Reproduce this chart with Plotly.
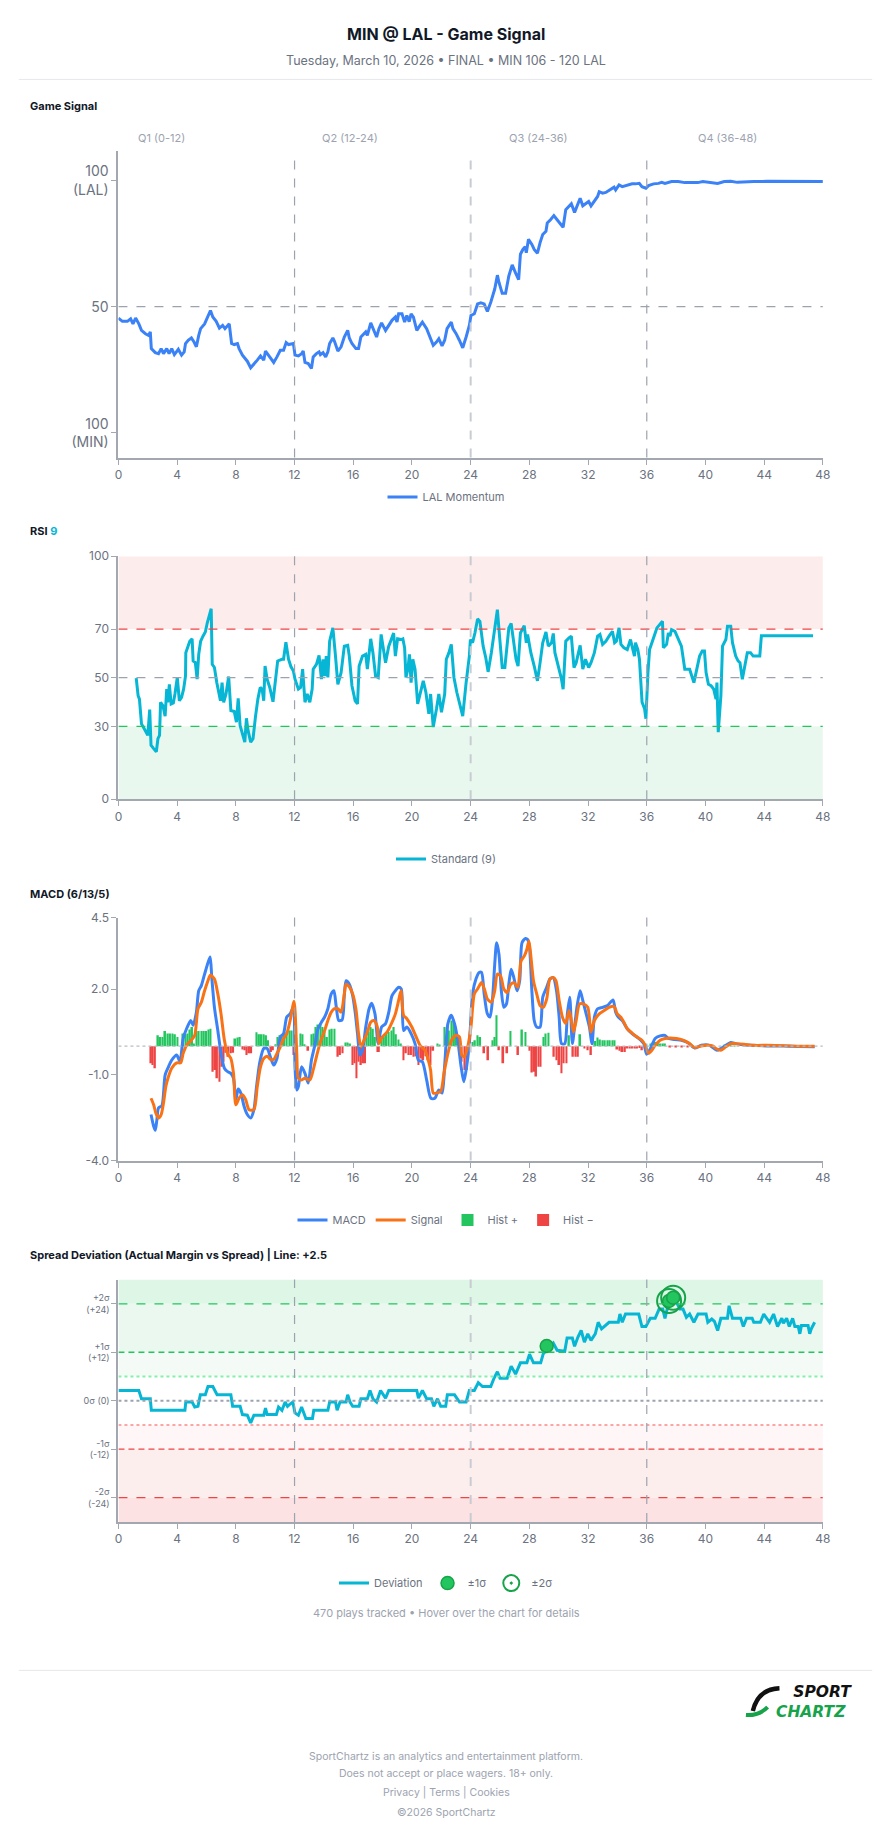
import plotly.graph_objects as go

W, H = 896, 1845
def px(v): return v / W
def py(v): return 1 - v / H

# ---------------- DATA ----------------
quarters = ["Q1 (0-12)", "Q2 (12-24)", "Q3 (24-36)", "Q4 (36-48)"]
minute_ticks = list(range(0, 49, 4))

gs_min = [0.00,0.27,0.61,0.83,0.99,1.17,1.39,1.57,1.84,2.06,
          2.17,2.24,2.51,2.73,2.91,3.07,3.29,3.45,3.63,3.81,
          4.08,4.30,4.48,4.57,4.75,4.97,5.15,5.31,5.47,5.60,
          5.87,6.10,6.27,6.43,6.66,6.88,7.10,7.26,7.55,7.71,
          7.89,8.11,8.22,8.45,8.63,8.78,9.01,9.23,9.46,9.68,
          9.90,10.02,10.24,10.58,10.80,11.03,11.25,11.43,11.59,11.92,
          12.03,12.26,12.48,12.59,12.71,12.93,13.15,13.27,13.49,13.67,
          13.76,13.94,14.12,14.27,14.39,14.61,14.72,14.95,15.17,15.39,
          15.62,15.73,15.91,16.18,16.36,16.52,16.85,16.96,17.19,17.41,
          17.59,17.75,17.93,18.20,18.42,18.64,18.87,18.98,19.09,19.32,
          19.50,19.65,19.81,19.94,20.10,20.33,20.55,20.71,21.00,21.22,
          21.45,21.67,21.83,22.05,22.23,22.39,22.68,22.79,23.01,23.23,
          23.46,23.69,23.91,24.02,24.25,24.47,24.69,24.92,25.14,25.37,
          25.64,25.82,25.93,26.15,26.38,26.60,26.83,27.05,27.27,27.39,
          27.56,27.72,27.79,27.94,28.17,28.33,28.55,28.73,28.91,29.13,
          29.22,29.44,29.67,29.89,30.12,30.30,30.48,30.70,30.86,31.08,
          31.31,31.46,31.64,31.82,32.04,32.20,32.43,32.65,32.76,32.99,
          33.21,33.55,33.77,33.88,34.11,34.33,34.67,35.00,35.23,35.49,
          35.67,35.94,36.12,36.46,36.80,37.02,37.24,37.47,37.69,38.14,
          38.59,39.04,39.48,39.82,40.38,40.83,41.28,41.72,42.17,42.62,
          43.29,44.19,45.31,46.43,48.00]
gs_val = [45.5,44.2,44.2,45.2,43.2,45.5,43.2,40.6,39.3,38.6,
          40.0,33.4,31.8,31.4,33.4,31.4,33.4,31.4,33.4,31.0,
          33.1,30.8,32.1,35.4,36.7,37.6,36.0,34.1,38.6,41.3,
          43.2,45.9,48.5,45.9,44.2,41.5,42.6,41.3,43.2,35.4,
          35.0,35.4,33.4,30.8,29.5,28.4,25.8,27.1,28.8,30.5,
          28.8,32.4,30.8,27.9,30.1,32.7,32.7,35.8,35.0,35.4,
          30.8,30.5,31.4,32.4,27.9,27.5,25.5,30.1,31.4,32.1,
          31.0,31.8,30.1,32.1,35.4,37.6,36.3,32.4,34.1,38.0,
          40.6,37.6,35.4,33.4,33.4,38.0,40.0,38.6,43.6,40.6,
          38.0,41.3,43.6,40.6,42.6,44.6,45.9,43.9,47.2,47.2,
          43.9,46.5,44.1,47.2,45.9,40.6,42.6,43.9,41.3,38.0,
          34.7,36.0,37.3,34.5,36.7,41.3,43.9,41.3,39.3,36.7,
          33.7,38.0,42.6,46.5,47.2,51.1,51.5,51.1,48.1,51.8,
          57.0,62.5,59.6,55.3,55.3,62.2,66.6,63.5,60.7,70.8,
          72.7,73.8,71.4,76.7,74.7,72.7,71.2,75.4,78.6,79.9,
          83.2,84.5,86.1,84.5,82.9,81.5,88.5,90.0,90.8,87.4,
          91.1,93.0,90.0,90.8,91.7,90.0,91.7,93.7,95.6,95.0,
          95.3,96.6,97.4,96.3,98.3,97.6,98.3,98.7,98.7,98.9,
          97.6,97.0,98.0,98.7,98.9,99.3,98.9,99.3,99.6,99.6,
          99.2,99.2,99.2,99.6,99.3,98.9,99.6,99.7,99.3,99.5,
          99.6,99.7,99.7,99.7,99.6]

rsi_min = [1.21,1.34,1.43,1.57,1.73,1.88,2.00,2.13,2.22,2.40,
           2.58,2.69,2.80,2.87,3.03,3.18,3.29,3.36,3.47,3.59,
           3.74,3.85,4.01,4.15,4.30,4.44,4.57,4.59,4.75,4.86,
           5.02,5.09,5.24,5.36,5.47,5.60,5.76,5.92,6.05,6.21,
           6.32,6.39,6.54,6.70,6.83,6.95,7.06,7.17,7.33,7.51,
           7.66,7.89,8.04,8.16,8.29,8.45,8.61,8.72,8.83,9.01,
           9.17,9.34,9.50,9.66,9.79,9.90,9.99,10.13,10.31,10.53,
           10.69,10.85,11.14,11.25,11.41,11.59,11.75,11.92,12.03,12.26,
           12.41,12.55,12.71,12.86,13.04,13.20,13.27,13.49,13.67,13.83,
           13.94,14.05,14.16,14.27,14.39,14.61,14.79,14.95,15.17,15.39,
           15.62,15.73,15.91,16.13,16.29,16.40,16.63,16.85,16.96,17.19,
           17.34,17.52,17.70,17.90,18.20,18.42,18.75,18.87,19.02,19.27,
           19.38,19.50,19.59,19.72,19.83,19.94,20.06,20.21,20.39,20.55,
           20.77,20.95,21.15,21.27,21.45,21.67,21.83,22.01,22.23,22.34,
           22.52,22.68,22.86,23.06,23.26,23.46,23.69,23.91,23.98,24.13,
           24.29,24.47,24.63,24.85,25.03,25.19,25.41,25.64,25.82,25.93,
           26.15,26.33,26.60,26.76,26.94,27.09,27.23,27.39,27.65,27.79,
           27.88,28.10,28.33,28.55,28.73,28.91,29.13,29.29,29.51,29.63,
           29.74,29.96,30.19,30.30,30.48,30.70,30.86,31.04,31.19,31.46,
           31.64,31.82,32.04,32.20,32.43,32.65,32.81,32.99,33.21,33.43,
           33.66,33.81,33.93,34.11,34.24,34.44,34.67,34.89,35.00,35.16,
           35.23,35.39,35.50,35.68,35.85,35.94,36.08,36.19,36.35,36.69,
           37.07,37.13,37.35,37.47,37.58,37.69,37.92,38.14,38.36,38.59,
           38.92,39.21,39.37,39.60,39.78,39.93,40.04,40.20,40.38,40.56,
           40.72,40.78,40.87,41.05,41.16,41.39,41.50,41.72,41.84,42.06,
           42.22,42.35,42.51,42.67,42.85,43.07,43.25,43.70,43.81,44.19,
           47.33]
rsi_val = [49.8,42.6,41.2,31.0,29.3,27.6,26.3,36.9,22.2,20.8,
           19.5,24.9,26.3,39.9,38.5,34.2,45.3,39.9,47.3,39.2,
           39.6,43.3,50.1,40.5,41.9,45.3,50.7,60.3,63.0,65.0,
           66.0,56.9,56.2,49.4,59.6,65.0,67.1,68.8,72.5,76.6,
           78.4,55.5,54.2,48.0,43.3,40.5,48.0,39.9,43.3,50.5,
           36.5,36.1,31.7,41.5,30.3,26.5,23.5,33.3,28.3,23.5,
           24.9,34.1,41.2,46.0,45.3,40.5,54.8,49.4,46.0,40.1,
           48.0,56.9,57.6,57.6,64.6,57.6,54.6,52.8,49.4,45.3,
           46.0,53.5,39.9,43.3,39.9,45.3,53.5,55.5,59.2,49.4,
           57.6,50.7,58.9,50.1,65.0,70.5,58.9,47.3,52.1,63.0,
           63.3,58.9,46.7,40.5,39.2,54.8,58.9,59.6,53.5,66.0,
           60.3,50.7,50.1,67.8,56.2,63.0,68.4,58.9,66.0,65.7,
           66.0,62.3,50.1,53.5,59.6,48.0,57.6,53.5,39.2,43.3,
           48.7,43.9,35.1,43.3,29.7,37.1,43.3,35.8,43.3,57.6,
           60.3,63.7,50.1,43.9,38.5,34.2,48.0,58.9,65.7,64.4,
           68.4,74.2,73.2,63.0,58.2,52.4,60.3,69.8,78.0,69.8,
           54.2,54.2,70.5,72.3,64.4,57.6,54.8,68.4,71.4,64.4,
           67.8,60.3,54.8,48.7,56.2,64.4,68.8,63.0,64.4,68.2,
           60.3,54.8,49.4,45.3,65.0,66.4,67.1,54.2,56.2,63.3,
           53.5,57.6,54.2,56.2,60.3,67.1,67.8,63.7,65.0,67.1,
           69.1,64.4,65.0,70.5,63.7,62.3,61.6,65.7,62.3,58.9,
           64.4,61.6,57.6,39.9,37.2,33.1,52.1,61.6,64.4,70.5,
           73.2,62.3,63.7,68.4,67.1,69.8,69.1,66.4,63.0,53.5,
           53.5,48.0,52.1,58.9,61.0,61.0,52.1,47.3,46.7,45.3,
           41.2,48.0,27.6,42.6,63.0,65.7,71.2,71.2,64.4,58.9,
           56.9,56.2,49.4,54.2,60.3,60.3,58.9,58.9,67.3,67.3,
           67.3]

macd_min = [2.22,2.40,2.51,2.62,2.73,2.96,3.18,3.41,3.63,3.97,
            4.19,4.41,4.64,4.93,5.09,5.31,5.47,5.65,5.87,6.10,
            6.25,6.36,6.54,6.77,6.99,7.22,7.44,7.66,7.84,8.00,
            8.16,8.34,8.56,8.78,9.01,9.23,9.41,9.64,9.90,10.13,
            10.35,10.58,10.80,11.03,11.25,11.47,11.70,11.92,12.03,12.15,
            12.26,12.48,12.71,12.93,13.15,13.38,13.60,13.83,14.05,14.27,
            14.50,14.68,14.83,15.01,15.24,15.39,15.51,15.73,15.96,16.13,
            16.29,16.45,16.63,16.85,17.08,17.25,17.48,17.70,17.93,18.20,
            18.42,18.64,18.87,19.09,19.27,19.43,19.65,19.94,20.21,20.44,
            20.71,21.00,21.29,21.56,21.83,22.05,22.23,22.45,22.68,22.90,
            23.12,23.35,23.53,23.69,23.91,24.13,24.36,24.58,24.74,24.92,
            25.14,25.32,25.48,25.64,25.77,25.93,26.09,26.26,26.44,26.60,
            26.76,26.94,27.16,27.34,27.50,27.73,27.88,28.01,28.17,28.33,
            28.50,28.73,28.91,29.18,29.40,29.63,29.85,30.03,30.19,30.41,
            30.59,30.75,30.93,31.08,31.24,31.46,31.64,31.87,32.09,32.27,
            32.43,32.65,32.99,33.32,33.70,33.88,34.06,34.33,34.67,35.00,
            35.45,35.79,35.99,36.12,36.35,36.57,36.91,37.24,37.47,37.91,
            38.36,38.81,39.26,39.71,40.27,40.78,41.05,41.39,41.72,42.06,
            42.40,43.07,44.19,45.31,46.43,47.44]
macd_val = [-2.39,-2.80,-2.94,-2.57,-2.16,-2.08,-1.01,-0.72,-0.49,-0.31,
            -0.54,0.27,0.61,0.90,0.73,1.19,1.94,2.12,2.52,2.92,
            3.12,2.40,1.36,0.55,-0.25,-0.77,-0.89,-0.95,-1.12,-1.87,
            -1.50,-1.64,-2.10,-2.39,-2.51,-2.22,-1.41,-0.54,-0.08,-0.08,
            -0.37,-0.66,-0.43,0.32,0.44,1.02,1.13,1.36,-0.72,-1.53,
            -1.41,-0.72,-0.95,-1.29,-0.49,0.03,0.61,0.84,1.02,1.31,
            1.83,1.94,1.42,0.90,0.92,1.77,2.29,2.17,1.77,1.19,
            0.44,-0.31,-0.14,0.67,1.31,1.50,1.13,0.09,0.67,0.79,
            1.19,1.77,1.94,2.06,2.00,0.55,0.67,0.44,0.09,-0.49,
            -0.54,-1.18,-1.82,-1.82,-1.53,-1.64,-0.66,0.79,1.08,0.79,
            0.21,-0.72,-1.24,-0.83,0.09,1.83,2.35,2.58,2.58,1.83,
            1.13,1.02,1.60,2.87,3.62,3.21,1.94,1.36,1.48,2.17,
            2.69,2.40,1.94,2.29,3.62,3.77,3.73,3.45,1.94,0.90,
            0.67,0.67,1.71,2.06,2.35,2.40,1.94,1.02,0.09,0.09,
            1.13,1.71,0.09,0.67,1.36,1.94,1.60,1.13,0.67,0.09,
            1.02,1.31,1.36,1.42,1.62,1.19,1.02,0.90,0.61,0.44,
            0.27,0.09,-0.28,-0.20,0.03,0.27,0.36,0.38,0.27,0.23,
            0.21,0.12,-0.06,0.03,0.03,-0.14,-0.08,0.03,0.13,0.09,
            0.06,0.03,0.01,0.01,-0.01,-0.02]

signal_min = [2.22,2.40,2.55,2.73,2.91,3.07,3.23,3.41,3.63,3.97,
              4.24,4.41,4.64,4.97,5.20,5.42,5.65,5.87,6.10,6.27,
              6.54,6.77,6.99,7.22,7.44,7.66,7.84,8.00,8.22,8.45,
              8.67,8.90,9.23,9.46,9.68,9.90,10.13,10.35,10.58,10.80,
              11.03,11.25,11.47,11.70,11.97,12.15,12.26,12.48,12.71,13.04,
              13.27,13.49,13.76,14.05,14.27,14.50,14.72,14.95,15.17,15.39,
              15.51,15.73,15.96,16.18,16.36,16.52,16.74,16.96,17.19,17.41,
              17.64,17.75,17.97,18.31,18.60,18.87,19.09,19.25,19.43,19.65,
              19.99,20.33,20.55,20.89,21.11,21.27,21.45,21.67,21.96,22.18,
              22.45,22.72,23.01,23.24,23.39,23.57,23.80,24.02,24.25,24.47,
              24.74,24.97,25.14,25.41,25.64,25.82,26.04,26.26,26.49,26.71,
              26.94,27.21,27.43,27.66,27.83,27.97,28.10,28.28,28.50,28.73,
              28.95,29.18,29.40,29.63,29.81,30.03,30.25,30.48,30.70,30.86,
              31.01,31.19,31.42,31.69,31.98,32.20,32.43,32.76,33.10,33.43,
              33.77,33.99,34.22,34.44,34.67,35.00,35.34,35.67,35.90,36.12,
              36.35,36.57,36.91,37.24,37.57,38.02,38.47,38.92,39.26,39.71,
              40.16,40.49,40.72,41.05,41.39,41.72,42.06,42.62,43.29,44.19,
              45.31,46.43,47.44]
signal_val = [-1.82,-2.05,-2.34,-2.51,-2.39,-1.99,-1.41,-1.06,-0.77,-0.58,
              -0.58,-0.25,0.03,0.21,0.38,1.31,1.54,1.94,2.29,2.49,
              2.35,1.83,1.13,0.21,-0.25,-0.43,-0.95,-2.05,-1.82,-1.70,
              -1.87,-2.22,-2.22,-1.41,-0.72,-0.43,-0.35,-0.46,-0.46,-0.25,
              -0.02,0.27,0.44,0.90,1.57,-0.25,-1.12,-1.18,-1.12,-1.18,
              -0.83,-0.37,0.15,0.55,0.90,1.19,1.31,1.31,1.19,1.83,
              2.17,2.08,1.83,1.31,0.44,-0.02,0.21,0.50,0.84,0.90,
              0.67,0.09,0.32,0.50,0.79,1.13,1.60,1.94,1.08,0.96,
              0.67,0.27,0.03,-0.14,-0.49,-0.83,-1.64,-1.64,-1.58,-0.95,
              -0.25,0.23,0.38,0.32,-0.31,-0.37,-0.02,0.67,1.83,2.00,
              2.23,1.94,1.65,1.54,1.94,2.52,2.46,2.00,1.88,2.15,
              2.23,2.06,2.98,3.16,3.39,3.68,3.16,2.29,1.83,1.42,
              1.36,1.65,2.35,2.40,2.29,1.60,1.02,0.79,1.25,0.90,
              0.50,0.90,1.48,1.48,1.36,0.50,0.90,1.13,1.25,1.36,
              1.39,1.13,1.02,0.84,0.61,0.46,0.32,0.21,0.03,-0.25,
              -0.14,0.03,0.21,0.27,0.29,0.27,0.21,0.09,-0.05,0.01,
              0.03,0.01,-0.08,-0.14,-0.02,0.09,0.09,0.07,0.03,0.03,
              0.02,0.00,0.00]

hist_min = [2.22,2.33,2.49,2.69,2.85,3.00,3.18,3.34,3.52,3.68,
            3.85,4.01,4.41,4.57,4.71,4.86,5.02,5.15,5.31,5.47,
            5.65,5.80,5.98,6.14,6.27,6.43,6.59,6.72,6.88,7.04,
            7.17,7.33,7.48,7.66,7.82,7.96,8.11,8.27,8.45,8.61,
            8.74,8.90,9.05,9.41,9.57,9.73,9.90,10.06,10.20,10.40,
            10.53,10.69,10.85,10.98,11.14,11.29,11.47,11.65,11.81,11.97,
            12.15,12.41,12.55,12.68,12.93,13.15,13.31,13.45,13.60,13.76,
            13.89,14.05,14.21,14.39,14.54,14.72,14.95,15.10,15.28,15.46,
            15.62,15.78,15.96,16.07,16.22,16.36,16.52,16.67,16.81,16.90,
            17.03,17.19,17.34,17.48,17.64,17.75,17.93,18.08,18.24,18.42,
            18.60,18.76,18.91,19.09,19.25,19.43,19.59,19.76,19.94,20.10,
            20.26,20.44,20.62,20.77,20.93,21.11,21.27,21.45,21.74,21.89,
            22.23,22.41,22.52,22.68,22.86,23.01,23.24,23.39,23.57,23.75,
            24.13,24.29,24.47,24.65,24.92,25.19,25.48,25.64,25.77,25.93,
            26.22,26.49,26.71,27.23,27.50,27.73,28.01,28.17,28.33,28.46,
            28.62,28.77,28.95,29.11,29.29,29.67,29.85,30.03,30.19,30.34,
            30.52,30.70,30.97,31.15,31.31,31.46,31.75,31.98,32.20,32.49,
            32.65,32.81,32.99,33.14,33.32,33.48,33.66,33.81,33.99,34.15,
            34.33,34.51,34.67,34.83,35.00,35.18,35.34,35.50,35.67,36.24,
            36.39,36.57,36.75,36.91,37.09,37.24,37.60,38.00,38.40,38.80,
            41.30,41.50,41.70,42.00]
hist_val = [-0.60,-0.66,-0.77,0.38,0.32,0.32,0.53,0.44,0.44,0.44,
            0.42,0.32,0.44,0.42,0.44,0.58,0.67,0.09,0.53,0.53,
            0.53,0.53,0.53,0.58,0.61,-0.89,-0.83,-1.12,-1.24,-0.72,
            -0.54,-0.23,-0.37,-0.25,-0.23,0.27,0.30,0.32,-0.12,-0.14,
            -0.31,-0.25,-0.25,0.49,0.42,0.42,0.42,0.38,0.21,-0.20,
            -0.14,0.07,0.32,0.38,0.32,0.44,0.50,0.55,0.55,-0.31,
            -0.20,0.44,0.42,0.07,-0.16,0.42,0.44,0.67,0.76,0.76,
            0.67,0.50,0.32,0.58,0.61,0.61,-0.37,-0.31,-0.25,0.13,
            0.13,0.09,-0.66,-0.60,-1.12,-0.54,-0.66,-0.60,-0.60,0.32,
            0.50,0.67,0.61,0.32,-0.20,-0.20,0.23,0.32,0.44,0.50,
            0.55,0.67,0.42,0.23,0.09,-0.49,-0.25,-0.31,-0.31,-0.37,
            -0.35,-0.66,-0.43,-0.49,-0.35,-0.49,-0.66,-0.16,0.09,0.03,
            0.67,0.67,0.55,0.90,0.90,0.67,-0.25,-0.54,-0.83,-0.83,
            0.15,0.21,0.38,0.32,-0.25,-0.49,0.21,0.32,1.08,-0.14,
            -0.60,-0.25,0.53,-0.31,0.58,0.50,-0.16,-0.92,-0.89,-1.06,
            -0.72,-0.72,0.32,0.44,0.47,-0.37,-0.49,-0.66,-0.95,-0.60,
            -0.60,0.38,-0.37,-0.37,-0.37,0.42,-0.08,-0.14,-0.31,0.18,
            0.30,0.23,0.21,0.21,0.21,0.21,0.21,0.21,-0.12,-0.16,
            -0.20,-0.20,-0.08,-0.08,-0.08,-0.08,-0.08,-0.06,-0.14,0.09,
            0.12,0.15,0.12,0.09,0.09,0.09,-0.03,-0.03,-0.03,-0.02,
            0.04,0.04,0.03,0.02]

dev_min = [0.00,1.39,1.57,2.17,2.24,4.53,4.59,5.02,5.20,5.42,
           5.58,5.92,6.10,6.43,6.72,7.66,7.78,8.29,8.45,8.78,
           9.01,9.23,9.90,10.02,10.13,10.76,10.91,11.14,11.36,11.52,
           11.65,11.88,12.03,12.26,12.48,12.64,12.77,13.22,13.31,14.27,
           14.39,14.79,14.90,15.10,15.51,15.62,15.78,15.96,16.40,16.52,
           16.96,17.14,17.34,17.59,17.86,18.20,18.42,20.33,20.44,20.71,
           21.00,21.33,21.49,21.74,21.96,22.30,22.41,22.90,23.24,23.69,
           23.91,24.25,24.52,24.81,25.37,25.59,25.82,26.00,26.49,26.76,
           27.06,27.39,27.83,28.01,28.28,28.77,28.95,29.22,29.63,29.89,
           30.41,30.57,30.93,31.08,31.31,31.53,31.75,31.98,32.20,32.49,
           32.69,32.92,33.21,33.43,34.06,34.17,34.33,34.55,35.45,35.67,
           35.94,36.24,36.57,36.84,37.09,37.24,37.36,37.58,37.92,38.25,
           38.47,38.70,38.92,39.21,39.49,40.04,40.16,40.43,40.61,40.83,
           41.05,41.50,41.61,41.84,42.40,42.58,42.80,43.18,43.29,43.74,
           43.97,44.37,44.64,44.91,45.20,45.31,45.53,45.71,45.94,46.09,
           46.32,46.43,46.54,46.99,47.10,47.21,47.44]
dev_val = [2.53,2.53,0.49,0.49,-2.37,-2.37,-0.33,-0.33,-1.55,-1.39,
           1.47,1.47,3.51,3.51,1.47,1.47,-1.39,-1.39,-3.43,-3.59,
           -5.47,-3.59,-3.59,-1.80,-3.43,-3.43,-1.55,-2.37,-0.33,-1.39,
           -0.98,-0.33,-3.02,-3.59,-1.55,-3.43,-4.41,-4.41,-2.37,-2.37,
           -0.33,-0.33,-2.37,-0.33,-0.33,1.47,-0.33,-1.39,-1.39,0.49,
           0.49,2.53,0.49,-0.33,2.53,0.65,2.53,2.53,0.65,2.53,
           0.49,0.49,-1.39,0.49,-1.39,-1.39,1.47,1.47,-0.33,-0.33,
           2.53,2.53,4.49,3.51,3.51,5.55,7.18,5.55,5.55,8.57,
           6.61,9.39,9.39,11.51,9.39,9.39,11.67,12.65,14.29,12.49,
           12.24,15.51,15.51,13.47,15.76,17.39,14.53,16.57,14.94,16.57,
           19.43,17.80,18.86,19.43,19.43,21.47,19.43,21.47,21.47,18.37,
           18.37,20.41,20.41,22.69,22.69,20.41,22.29,24.33,25.14,22.69,
           22.69,20.65,21.47,19.43,21.47,21.47,19.43,20.24,19.67,17.39,
           20.41,20.41,23.51,20.41,20.41,18.37,20.41,20.41,19.43,19.43,
           21.47,19.43,21.47,18.37,20.41,19.18,20.41,18.37,20.41,18.37,
           18.37,16.57,18.61,18.61,16.57,17.80,19.43]

sigma1_min = [29.18]
sigma1_val = [13.55]
sigma2_min = [37.52, 37.80]
sigma2_val = [24.7, 25.5]

# ---------------- STYLE ----------------
BLUE = "#3b82f6"; CYAN = "#06b6d4"; ORANGE = "#f97316"
GREEN = "#22c55e"; DKGREEN = "#16a34a"; RED = "#ef4444"
GRAY = "#9ca3af"; AXC = "#a3a7af"; TXT = "#6b7280"; DARK = "#111827"
FONT = "Inter, 'Noto Sans', sans-serif"

XD = [px(116), px(830)]
D1 = [py(453.3), py(144)]
D2 = [py(797.7), py(552.7)]
D3 = [py(1162), py(917)]
D4 = [py(1526.3), py(1282)]

fig = go.Figure()

fig.add_trace(go.Scatter(x=gs_min, y=gs_val, mode="lines", name="LAL Momentum",
                         line=dict(color=BLUE, width=3), xaxis="x", yaxis="y", legend="legend"))
fig.add_trace(go.Scatter(x=rsi_min, y=rsi_val, mode="lines", name="Standard (9)",
                         line=dict(color=CYAN, width=3), xaxis="x2", yaxis="y2", legend="legend2"))

fig.add_trace(go.Scatter(x=macd_min, y=macd_val, mode="lines", name="MACD",
                         line=dict(color=BLUE, width=3, shape="spline", smoothing=0.7),
                         xaxis="x3", yaxis="y3", legend="legend3"))
fig.add_trace(go.Scatter(x=signal_min, y=signal_val, mode="lines", name="Signal",
                         line=dict(color=ORANGE, width=3, shape="spline", smoothing=0.7),
                         xaxis="x3", yaxis="y3", legend="legend3"))
hp = [(m, v) for m, v in zip(hist_min, hist_val) if v >= 0]
hn = [(m, v) for m, v in zip(hist_min, hist_val) if v < 0]
fig.add_trace(go.Bar(x=[m for m, _ in hp], y=[v for _, v in hp], width=0.115, name="Hist +",
                     marker=dict(color=GREEN, line=dict(width=0)), xaxis="x3", yaxis="y3", legend="legend3"))
fig.add_trace(go.Bar(x=[m for m, _ in hn], y=[v for _, v in hn], width=0.115, name="Hist \u2212",
                     marker=dict(color=RED, line=dict(width=0)), xaxis="x3", yaxis="y3", legend="legend3"))

fig.add_trace(go.Scatter(x=dev_min, y=dev_val, mode="lines", name="Deviation",
                         line=dict(color=CYAN, width=3), xaxis="x4", yaxis="y4", legend="legend4"))
fig.add_trace(go.Scatter(x=sigma1_min, y=sigma1_val, mode="markers", name="\u00b11\u03c3",
                         marker=dict(size=13, color=GREEN, line=dict(color=DKGREEN, width=1.5)),
                         xaxis="x4", yaxis="y4", legend="legend4"))
fig.add_trace(go.Scatter(x=sigma2_min, y=sigma2_val, mode="markers", name="\u00b12\u03c3",
                         marker=dict(size=24, symbol="circle-open-dot", color=DKGREEN, line=dict(color=DKGREEN, width=2)),
                         xaxis="x4", yaxis="y4", legend="legend4"))
fig.add_trace(go.Scatter(x=sigma2_min, y=sigma2_val, mode="markers", showlegend=False,
                         marker=dict(size=13, color=GREEN, line=dict(color=DKGREEN, width=1.5)),
                         xaxis="x4", yaxis="y4"))

def xax(anchor, dom):
    return dict(domain=XD, anchor=anchor, range=[0, 48], tickvals=minute_ticks,
                showline=True, linecolor=AXC, linewidth=2, ticks="outside", ticklen=5,
                tickcolor=AXC, tickwidth=1, tickfont=dict(size=12, color=TXT, family=FONT),
                showgrid=False, zeroline=False, fixedrange=True)

def yax(anchor, dom, rng, vals, texts, size):
    return dict(domain=dom, anchor=anchor, range=rng, tickvals=vals, ticktext=texts,
                showline=True, linecolor=AXC, linewidth=2, ticks="outside", ticklen=5,
                tickcolor=AXC, tickwidth=1, tickfont=dict(size=size, color=TXT, family=FONT),
                showgrid=False, zeroline=False, fixedrange=True)

def leg(y):
    return dict(orientation="h", x=0.5, xanchor="center", y=y, yanchor="middle",
                font=dict(size=11, color=TXT, family=FONT), bgcolor="rgba(0,0,0,0)",
                itemclick=False, itemdoubleclick=False, itemwidth=30)

shapes = []
def hline(xr, yr, y, color, dash, width=1.2):
    shapes.append(dict(type="line", xref=xr, yref=yr, x0=0, x1=48, y0=y, y1=y,
                       line=dict(color=color, dash=dash, width=width), layer="above"))
def vlines(xr, yr, top=1.0):
    for q in (12, 24, 36):
        shapes.append(dict(type="line", xref=xr, yref=yr + " domain", x0=q, x1=q, y0=0, y1=top,
                           line=dict(color="#c8ccd2" if q == 24 else GRAY,
                                     width=2 if q == 24 else 1.2, dash="dash"), layer="above"))
def band(xr, yr, y0, y1, color):
    shapes.append(dict(type="rect", xref=xr, yref=yr, x0=0, x1=48, y0=y0, y1=y1,
                       fillcolor=color, line=dict(width=0), layer="below"))

# chart 1
hline("x", "y", 50, GRAY, "dash", 1.2)
vlines("x", "y", 0.984)
# chart 2
band("x2", "y2", 70, 100, "#fdecec")
band("x2", "y2", 0, 30, "#e9f8ee")
hline("x2", "y2", 70, RED, "dash", 1.3)
hline("x2", "y2", 50, GRAY, "dash", 1.3)
hline("x2", "y2", 30, GREEN, "dash", 1.3)
vlines("x2", "y2")
# chart 3
hline("x3", "y3", 0, "#b8bcc4", "dot", 1.2)
vlines("x3", "y3")
# chart 4
band("x4", "y4", 24, 30, "#ddf6e5")
band("x4", "y4", 12, 24, "#eaf8ef")
band("x4", "y4", 6, 12, "#f4fbf7")
band("x4", "y4", -12, -6, "#fff7f7")
band("x4", "y4", -24, -12, "#fdeeee")
band("x4", "y4", -30, -24, "#fde2e4")
hline("x4", "y4", 24, GREEN, "dash", 1.3)
hline("x4", "y4", 12, GREEN, "6px,4px", 1.3)
hline("x4", "y4", 6, "#86efac", "dot", 2)
hline("x4", "y4", 0, GRAY, "dot", 2)
hline("x4", "y4", -6, "#fca5a5", "dot", 2)
hline("x4", "y4", -12, RED, "6px,4px", 1.3)
hline("x4", "y4", -24, RED, "dash", 1.3)
vlines("x4", "y4")

# separators
for yy in (72, 1676):
    shapes.append(dict(type="line", xref="paper", yref="paper", x0=px(15), x1=px(880),
                       y0=py(yy), y1=py(yy), line=dict(color="#e5e7eb", width=1)))
# logo swooshes
def P(x, y): return f"{px(x):.5f},{py(y):.5f}"
shapes.append(dict(type="path", xref="paper", yref="paper",
                   path=f"M {P(786,1694)} Q {P(764,1695)} {P(759,1717)}",
                   line=dict(color="#111111", width=4.5)))
shapes.append(dict(type="path", xref="paper", yref="paper",
                   path=f"M {P(752,1721)} Q {P(765,1722)} {P(774,1713)}",
                   line=dict(color=DKGREEN, width=4)))

ann = []
def txt(x, y, s, size=11, color=TXT, xanchor="center", bold=False, italic=False, family=FONT, align="center"):
    if bold: s = f"<b>{s}</b>"
    if italic: s = f"<i>{s}</i>"
    ann.append(dict(x=px(x), y=py(y), xref="paper", yref="paper", text=s, showarrow=False,
                    xanchor=xanchor, yanchor="middle", align=align,
                    font=dict(size=size, color=color, family=family)))

txt(448, 26, "MIN @ LAL - Game Signal", 16, DARK, bold=True)
txt(448, 53, "Tuesday, March 10, 2026 \u2022 FINAL \u2022 MIN 106 - 120 LAL", 12.5, TXT)
txt(24, 99, "Game Signal", 11, DARK, "left", bold=True)
txt(24, 527, "RSI <span style='color:#06b6d4'>9</span>", 11, DARK, "left", bold=True)
txt(24, 893, "MACD (6/13/5)", 11, DARK, "left", bold=True)
txt(24, 1257, "Spread Deviation (Actual Margin vs Spread) | Line: +2.5", 11, DARK, "left", bold=True)
for qx, q in zip((160, 351, 542, 733), quarters):
    txt(qx, 131, q, 11, GRAY)
txt(448, 1618, "470 plays tracked \u2022 Hover over the chart for details", 11, GRAY)
txt(448, 1763, "SportChartz is an analytics and entertainment platform.", 10.5, GRAY)
txt(448, 1780, "Does not accept or place wagers. 18+ only.", 10.5, GRAY)
txt(448, 1799, "Privacy | Terms | Cookies", 10.5, GRAY)
txt(448, 1819, "\u00a92026 SportChartz", 10.5, GRAY)
# logo (single two-line text so the words don't collide)
ann.append(dict(x=px(862), y=py(1708), xref="paper", yref="paper", showarrow=False,
                xanchor="right", yanchor="middle", align="right",
                text="<b><i>SPORT</i></b><br><b><i><span style='color:#16a34a'>CHARTZ </span></i></b>",
                font=dict(size=15.5, color="#111111", family="DejaVu Sans")))

fig.update_layout(
    width=W, height=H, margin=dict(l=0, r=0, t=0, b=0),
    paper_bgcolor="white", plot_bgcolor="rgba(0,0,0,0)",
    font=dict(family=FONT, color=TXT),
    barmode="overlay", showlegend=True, hovermode=False,
    xaxis=xax("y", D1),
    yaxis=yax("x", D1, [-9.83, 111.8], [0, 50, 100], ["100<br>(MIN)", "50", "100<br>(LAL)"], 14),
    xaxis2=xax("y2", D2),
    yaxis2=yax("x2", D2, [0, 100], [0, 30, 50, 70, 100], ["0", "30", "50", "70", "100"], 12),
    xaxis3=xax("y3", D3),
    yaxis3=yax("x3", D3, [-4, 4.5], [-4, -1, 2, 4.5], ["-4.0", "-1.0", "2.0", "4.5"], 12),
    xaxis4=xax("y4", D4),
    yaxis4=yax("x4", D4, [-30, 30], [-24, -12, 0, 12, 24],
               ["-2\u03c3<br>(-24)", "-1\u03c3<br>(-12)", "0\u03c3 (0)", "+1\u03c3<br>(+12)", "+2\u03c3<br>(+24)"], 9),
    legend=leg(py(493)), legend2=leg(py(858)), legend3=leg(py(1222)), legend4=leg(py(1588)),
    shapes=shapes, annotations=ann,
)

fig.write_html("out.html", config={"responsive": False},
               post_script="document.body.style.margin='0';document.documentElement.style.overflow='hidden';document.body.style.overflow='hidden';")
